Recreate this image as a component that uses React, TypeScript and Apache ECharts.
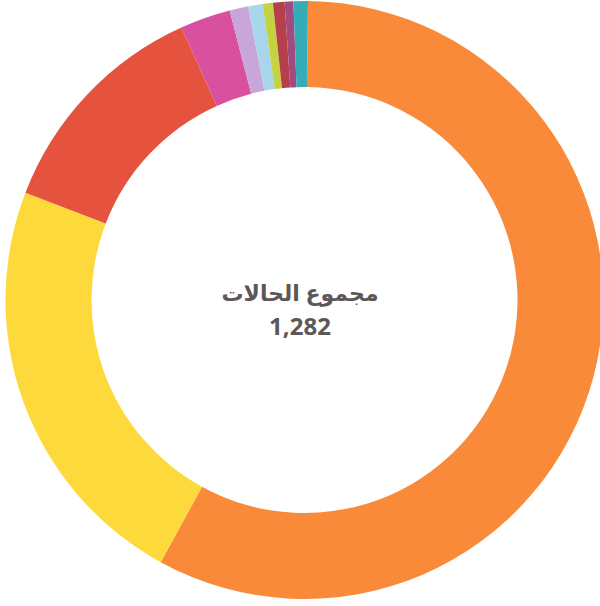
import React, { useEffect, useRef } from "react";
import * as echarts from "echarts";

const categories = ["a", "b", "c", "d", "e", "f", "g", "h", "i", "j"];
const values = [741, 293, 159, 35, 13, 10, 7, 8, 6, 10];
const colors = [
  "#F98A3A",
  "#FDD93C",
  "#E5523D",
  "#D9519E",
  "#C8A6D9",
  "#A8D6EA",
  "#C5D343",
  "#B5404B",
  "#A24B80",
  "#35ADB6",
];
const centerTitle = "مجموع الحالات";
const centerTotal = "1,282";

export default function App() {
  const ref = useRef<HTMLDivElement>(null);
  useEffect(() => {
    if (!ref.current) return;
    const chart = echarts.init(ref.current, undefined, { renderer: "svg" });
    chart.setOption({
      animation: false,
      backgroundColor: "#ffffff",
      graphic: [
        {
          type: "text",
          left: "center",
          top: 281,
          style: {
            text: centerTitle,
            fontSize: 22,
            lineHeight: 22,
            fontWeight: "bold",
            fill: "#5E5757",
            fontFamily: "'Noto Sans', 'DejaVu Sans', sans-serif",
          },
        },
        {
          type: "text",
          left: "center",
          top: 313,
          style: {
            text: centerTotal,
            fontSize: 24,
            lineHeight: 24,
            fontWeight: "bold",
            fill: "#5E5757",
            fontFamily: "'Noto Sans', 'DejaVu Sans', sans-serif",
          },
        },
      ],
      series: [
        {
          type: "pie",
          center: [304.5, 300],
          radius: [213, 299],
          startAngle: 89.33,
          clockwise: true,
          label: { show: false },
          labelLine: { show: false },
          emphasis: { disabled: true },
          itemStyle: { borderWidth: 0 },
          data: categories.map((c, i) => ({
            name: c,
            value: values[i],
            itemStyle: { color: colors[i] },
          })),
        },
      ],
    });
    return () => chart.dispose();
  }, []);
  return (
    <div
      ref={ref}
      style={{ position: "fixed", left: 0, top: 0, width: 600, height: 606 }}
    />
  );
}
